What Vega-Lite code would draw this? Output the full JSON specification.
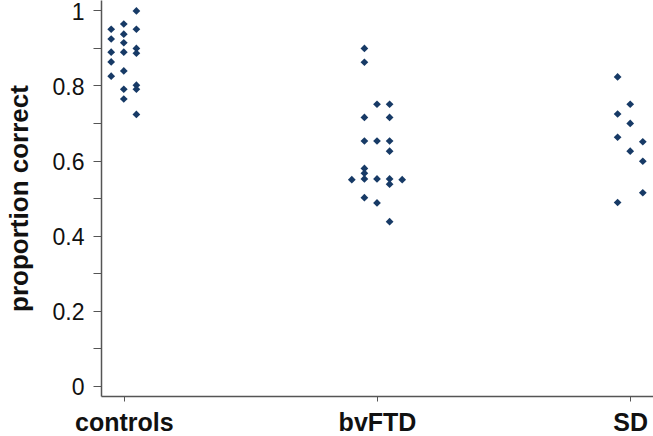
{
  "$schema": "https://vega.github.io/schema/vega-lite/v6.json",
  "width": 552,
  "height": 396,
  "autosize": "none",
  "padding": {"left": 101, "top": 0, "right": 0, "bottom": 40},
  "background": "white",
  "config": {
    "view": {"stroke": null},
    "font": "Liberation Sans"
  },
  "data": {
    "values": [
      {"group": "controls", "slot": -1, "value": 0.950},
      {"group": "controls", "slot": -1, "value": 0.924},
      {"group": "controls", "slot": -1, "value": 0.889},
      {"group": "controls", "slot": -1, "value": 0.863},
      {"group": "controls", "slot": -1, "value": 0.825},
      {"group": "controls", "slot": 0, "value": 0.964},
      {"group": "controls", "slot": 0, "value": 0.937},
      {"group": "controls", "slot": 0, "value": 0.914},
      {"group": "controls", "slot": 0, "value": 0.889},
      {"group": "controls", "slot": 0, "value": 0.839},
      {"group": "controls", "slot": 0, "value": 0.790},
      {"group": "controls", "slot": 0, "value": 0.764},
      {"group": "controls", "slot": 1, "value": 0.999},
      {"group": "controls", "slot": 1, "value": 0.950},
      {"group": "controls", "slot": 1, "value": 0.899},
      {"group": "controls", "slot": 1, "value": 0.886},
      {"group": "controls", "slot": 1, "value": 0.801},
      {"group": "controls", "slot": 1, "value": 0.790},
      {"group": "controls", "slot": 1, "value": 0.723},
      {"group": "bvFTD", "slot": -1, "value": 0.899},
      {"group": "bvFTD", "slot": -1, "value": 0.862},
      {"group": "bvFTD", "slot": 0, "value": 0.750},
      {"group": "bvFTD", "slot": 1, "value": 0.750},
      {"group": "bvFTD", "slot": -1, "value": 0.715},
      {"group": "bvFTD", "slot": 1, "value": 0.715},
      {"group": "bvFTD", "slot": -1, "value": 0.652},
      {"group": "bvFTD", "slot": 0, "value": 0.652},
      {"group": "bvFTD", "slot": 1, "value": 0.652},
      {"group": "bvFTD", "slot": 1, "value": 0.625},
      {"group": "bvFTD", "slot": -1, "value": 0.579},
      {"group": "bvFTD", "slot": -1, "value": 0.566},
      {"group": "bvFTD", "slot": -1, "value": 0.551},
      {"group": "bvFTD", "slot": -2, "value": 0.549},
      {"group": "bvFTD", "slot": 0, "value": 0.551},
      {"group": "bvFTD", "slot": 1, "value": 0.551},
      {"group": "bvFTD", "slot": 1, "value": 0.537},
      {"group": "bvFTD", "slot": 2, "value": 0.549},
      {"group": "bvFTD", "slot": -1, "value": 0.501},
      {"group": "bvFTD", "slot": 0, "value": 0.487},
      {"group": "bvFTD", "slot": 1, "value": 0.437},
      {"group": "SD", "slot": -1, "value": 0.823},
      {"group": "SD", "slot": 0, "value": 0.750},
      {"group": "SD", "slot": -1, "value": 0.724},
      {"group": "SD", "slot": 0, "value": 0.699},
      {"group": "SD", "slot": -1, "value": 0.662},
      {"group": "SD", "slot": 1, "value": 0.650},
      {"group": "SD", "slot": 0, "value": 0.625},
      {"group": "SD", "slot": 1, "value": 0.598},
      {"group": "SD", "slot": 1, "value": 0.514},
      {"group": "SD", "slot": -1, "value": 0.488}
    ]
  },
  "mark": {"type": "point", "shape": "diamond", "filled": true, "size": 60, "color": "#173a66", "opacity": 1},
  "encoding": {
    "x": {
      "field": "group",
      "type": "nominal",
      "sort": ["controls", "bvFTD", "SD"],
      "scale": {"type": "point", "padding": 0.09},
      "axis": {
        "title": null,
        "labelAngle": 0,
        "labelFont": "Liberation Sans",
        "labelFontSize": 25,
        "labelFontWeight": "bold",
        "labelColor": "#111",
        "labelPadding": 9,
        "tickSize": 5,
        "tickColor": "#555",
        "domainColor": "#555",
        "domainWidth": 1.5,
        "grid": false
      }
    },
    "xOffset": {
      "field": "slot",
      "type": "quantitative",
      "scale": {"domain": [-2, 2], "range": [-25.2, 25.2]}
    },
    "y": {
      "field": "value",
      "type": "quantitative",
      "scale": {"domain": [-0.028, 1.028], "nice": false, "zero": false},
      "axis": {
        "title": "proportion correct",
        "titleFont": "Liberation Sans",
        "titleFontSize": 26,
        "titleFontWeight": "bold",
        "titleColor": "#111",
        "titlePadding": 20,
        "values": [0, 0.1, 0.2, 0.3, 0.4, 0.5, 0.6, 0.7, 0.8, 0.9, 1],
        "labelExpr": "round(datum.value * 10) % 2 == 0 ? format(datum.value, '~g') : ''",
        "labelFont": "Liberation Sans",
        "labelFontSize": 23,
        "labelColor": "#111",
        "labelPadding": 9,
        "labelOffset": 2,
        "labelBound": false,
        "tickSize": 8,
        "tickColor": "#555",
        "domainColor": "#555",
        "domainWidth": 1.5,
        "grid": false
      }
    }
  }
}
